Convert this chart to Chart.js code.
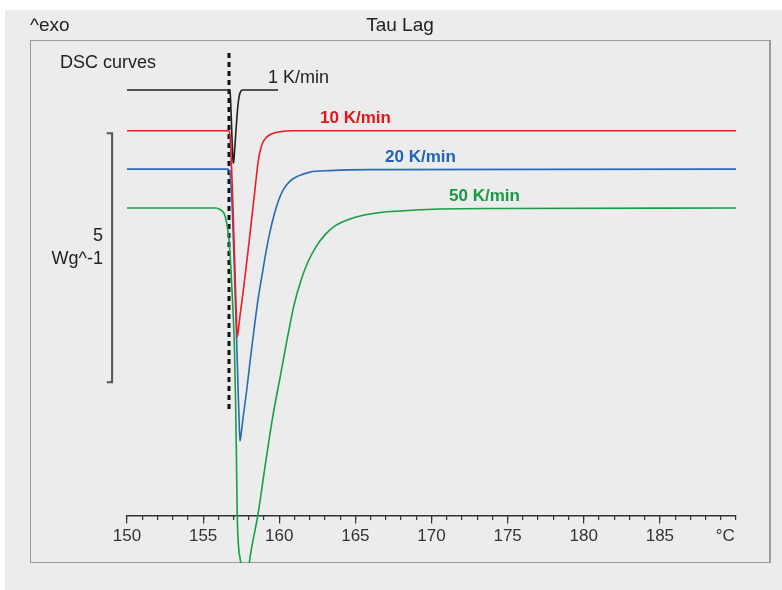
<!DOCTYPE html>
<html>
<head>
<meta charset="utf-8">
<script src="https://cdn.jsdelivr.net/npm/chart.js@4.4.1/dist/chart.umd.min.js"></script>
<style>
  html, body { margin: 0; padding: 0; background: #fff; }
  #wrap { position: relative; width: 782px; height: 590px; }
  #panel { position: absolute; left: 5px; top: 10px; width: 777px; height: 580px; background: #ececec; }
  #frame { position: absolute; left: 30px; top: 40px; width: 738px; height: 521px; border: 1px solid #9a9a9a; border-right-width: 2px; }
  canvas { position: absolute; left: 0; top: 0; }
</style>
</head>
<body>
<div id="wrap">
  <div id="panel"></div>
  <div id="frame"></div>
  <canvas id="myChart" width="782" height="590"></canvas>
</div>
<script>
// temperatures in °C, heat flow in W/g (curves shifted, exo up)
const blackT = [150, 156.70, 156.77, 156.83, 156.90, 156.96, 157.00, 157.06, 157.16, 157.26, 157.36, 157.45, 157.59, 159.92];
const blackW = [2.37, 2.37, 2.33, 1.97, 1.37, 0.96, 0.90, 1.12, 1.57, 1.97, 2.23, 2.33, 2.37, 2.37];

const redT = [150, 156.63, 156.73, 156.80, 156.90, 157.03, 157.13, 157.20, 157.24, 157.29, 157.42, 157.62, 157.82, 158.01, 158.21, 158.41, 158.60, 158.77, 158.93, 159.13, 159.39, 159.72, 160.25, 160.84, 190];
const redW = [1.55, 1.55, 1.53, 1.27, 0.56, -0.64, -1.65, -2.35, -2.59, -2.51, -2.17, -1.71, -1.20, -0.70, -0.16, 0.38, 0.90, 1.18, 1.32, 1.41, 1.47, 1.51, 1.54, 1.55, 1.55];

const blueT = [150, 156.57, 156.70, 156.77, 156.83, 156.93, 157.03, 157.16, 157.29, 157.38, 157.42, 157.48, 157.62, 157.85, 158.08, 158.34, 158.60, 158.87, 159.13, 159.39, 159.66, 159.92, 160.25, 160.71, 161.23, 162.02, 163.33, 165.96, 190];
const blueW = [0.78, 0.78, 0.76, 0.68, 0.46, -0.14, -1.04, -2.25, -3.55, -4.42, -4.68, -4.58, -4.22, -3.69, -3.09, -2.45, -1.85, -1.35, -0.88, -0.48, -0.14, 0.12, 0.36, 0.54, 0.64, 0.72, 0.75, 0.77, 0.78];

const greenT = [150, 155.85, 156.11, 156.31, 156.44, 156.57, 156.70, 156.83, 156.96, 157.06, 157.13, 157.19, 157.24, 157.32, 157.47, 157.58, 157.72, 157.85, 158.03, 158.60, 159.13, 159.59, 160.05, 160.51, 160.97, 161.43, 161.89, 162.41, 163.00, 163.66, 164.65, 165.96, 167.93, 170.56, 174.50, 190];
const greenW = [0, 0, -0.03, -0.08, -0.16, -0.34, -0.64, -1.24, -2.05, -2.85, -3.86, -5.06, -6.16, -6.77, -7.13, -7.57, -7.87, -7.67, -7.13, -6.16, -5.06, -4.16, -3.41, -2.65, -1.95, -1.45, -1.08, -0.78, -0.54, -0.36, -0.22, -0.12, -0.06, -0.02, -0.01, 0];

// onset marker and 5 W/g scale bar
const onsetT = [156.70, 156.70];
const onsetW = [3.11, -4.06];
const barT = [148.67, 149.02, 149.02, 148.67];
const barW = [1.5, 1.5, -3.5, -3.5];

const majorTicks = [150, 155, 160, 165, 170, 175, 180, 185];
const unitTick = 189.3;

function pts(t, w) { return t.map((v, i) => ({ x: v, y: w[i] })); }

const curveLabels = [
  { text: 'DSC curves', x: 145.6, y: 2.91, color: '#222', bold: false, align: 'left' },
  { text: '1 K/min', x: 159.26, y: 2.61, color: '#222', bold: false, align: 'left' },
  { text: '10 K/min', x: 162.68, y: 1.81, color: '#e8141c', bold: true, align: 'left' },
  { text: '20 K/min', x: 166.95, y: 1.02, color: '#1e64b4', bold: true, align: 'left' },
  { text: '50 K/min', x: 171.15, y: 0.24, color: '#169a43', bold: true, align: 'left' },
  { text: '5', x: 148.42, y: -0.56, color: '#222', bold: false, align: 'right' },
  { text: 'Wg^-1', x: 148.42, y: -1.02, color: '#222', bold: false, align: 'right' }
];

const textPlugin = {
  id: 'texts',
  afterDraw(chart) {
    const ctx = chart.ctx;
    const sx = chart.scales.x, sy = chart.scales.y;
    ctx.save();
    ctx.textBaseline = 'middle';
    ctx.fillStyle = '#222';
    ctx.font = '19px "Liberation Sans", Arial, sans-serif';
    ctx.textAlign = 'left';
    ctx.fillText('^exo', 30, 26);
    ctx.textAlign = 'center';
    ctx.fillText('Tau Lag', 400, 26);
    curveLabels.forEach(l => {
      ctx.font = (l.bold ? 'bold 17px ' : '18px ') + '"Liberation Sans", Arial, sans-serif';
      ctx.fillStyle = l.color;
      ctx.textAlign = l.align;
      ctx.fillText(l.text, sx.getPixelForValue(l.x), sy.getPixelForValue(l.y));
    });
    ctx.restore();
  }
};

const axisAt = { y: -6.185 };

var ctx = document.getElementById('myChart').getContext('2d');
var chart = new Chart(ctx, {
  type: 'line',
  data: {
    datasets: [
      { label: '1 K/min', data: pts(blackT, blackW), borderColor: '#222', borderWidth: 1.6, cubicInterpolationMode: 'monotone' },
      { label: '10 K/min', data: pts(redT, redW), borderColor: '#ee1c24', borderWidth: 1.6, cubicInterpolationMode: 'monotone' },
      { label: '20 K/min', data: pts(blueT, blueW), borderColor: '#2a6ab8', borderWidth: 1.6, cubicInterpolationMode: 'monotone' },
      { label: '50 K/min', data: pts(greenT, greenW), borderColor: '#16a046', borderWidth: 1.6, cubicInterpolationMode: 'monotone' },
      { label: 'onset', data: pts(onsetT, onsetW), borderColor: '#111', borderWidth: 3, borderDash: [5, 4] },
      { label: 'scale', data: pts(barT, barW), borderColor: '#555', borderWidth: 2, clip: false }
    ]
  },
  options: {
    responsive: false,
    animation: false,
    layout: { padding: { left: 127, right: 46, top: 40, bottom: 27 } },
    elements: { point: { radius: 0 }, line: { fill: false } },
    plugins: { legend: { display: false }, tooltip: { enabled: false } },
    scales: {
      y: { type: 'linear', display: false, min: -7.129, max: 3.373 },
      x: {
        type: 'linear', min: 150, max: 190, position: axisAt,
        afterBuildTicks: s => { s.ticks = majorTicks.concat([unitTick]).map(v => ({ value: v })); },
        ticks: {
          autoSkip: false, maxRotation: 0, padding: 3, color: '#333',
          font: { size: 17, family: '"Liberation Sans", Arial, sans-serif' },
          callback: v => (v > 188 ? '°C' : v)
        },
        grid: {
          drawOnChartArea: false, drawTicks: true, tickLength: 7, lineWidth: 1.2,
          color: c => (c.tick && c.tick.value > 188 ? 'rgba(0,0,0,0)' : '#333')
        },
        border: { display: true, color: '#333', width: 1.6 }
      },
      x2: {
        type: 'linear', min: 150, max: 190, position: axisAt,
        ticks: { stepSize: 1, display: false, autoSkip: false },
        grid: { drawOnChartArea: false, drawTicks: true, tickLength: 4, color: '#333', lineWidth: 1.2 },
        border: { display: false }
      }
    }
  },
  plugins: [textPlugin]
});
</script>
</body>
</html>
